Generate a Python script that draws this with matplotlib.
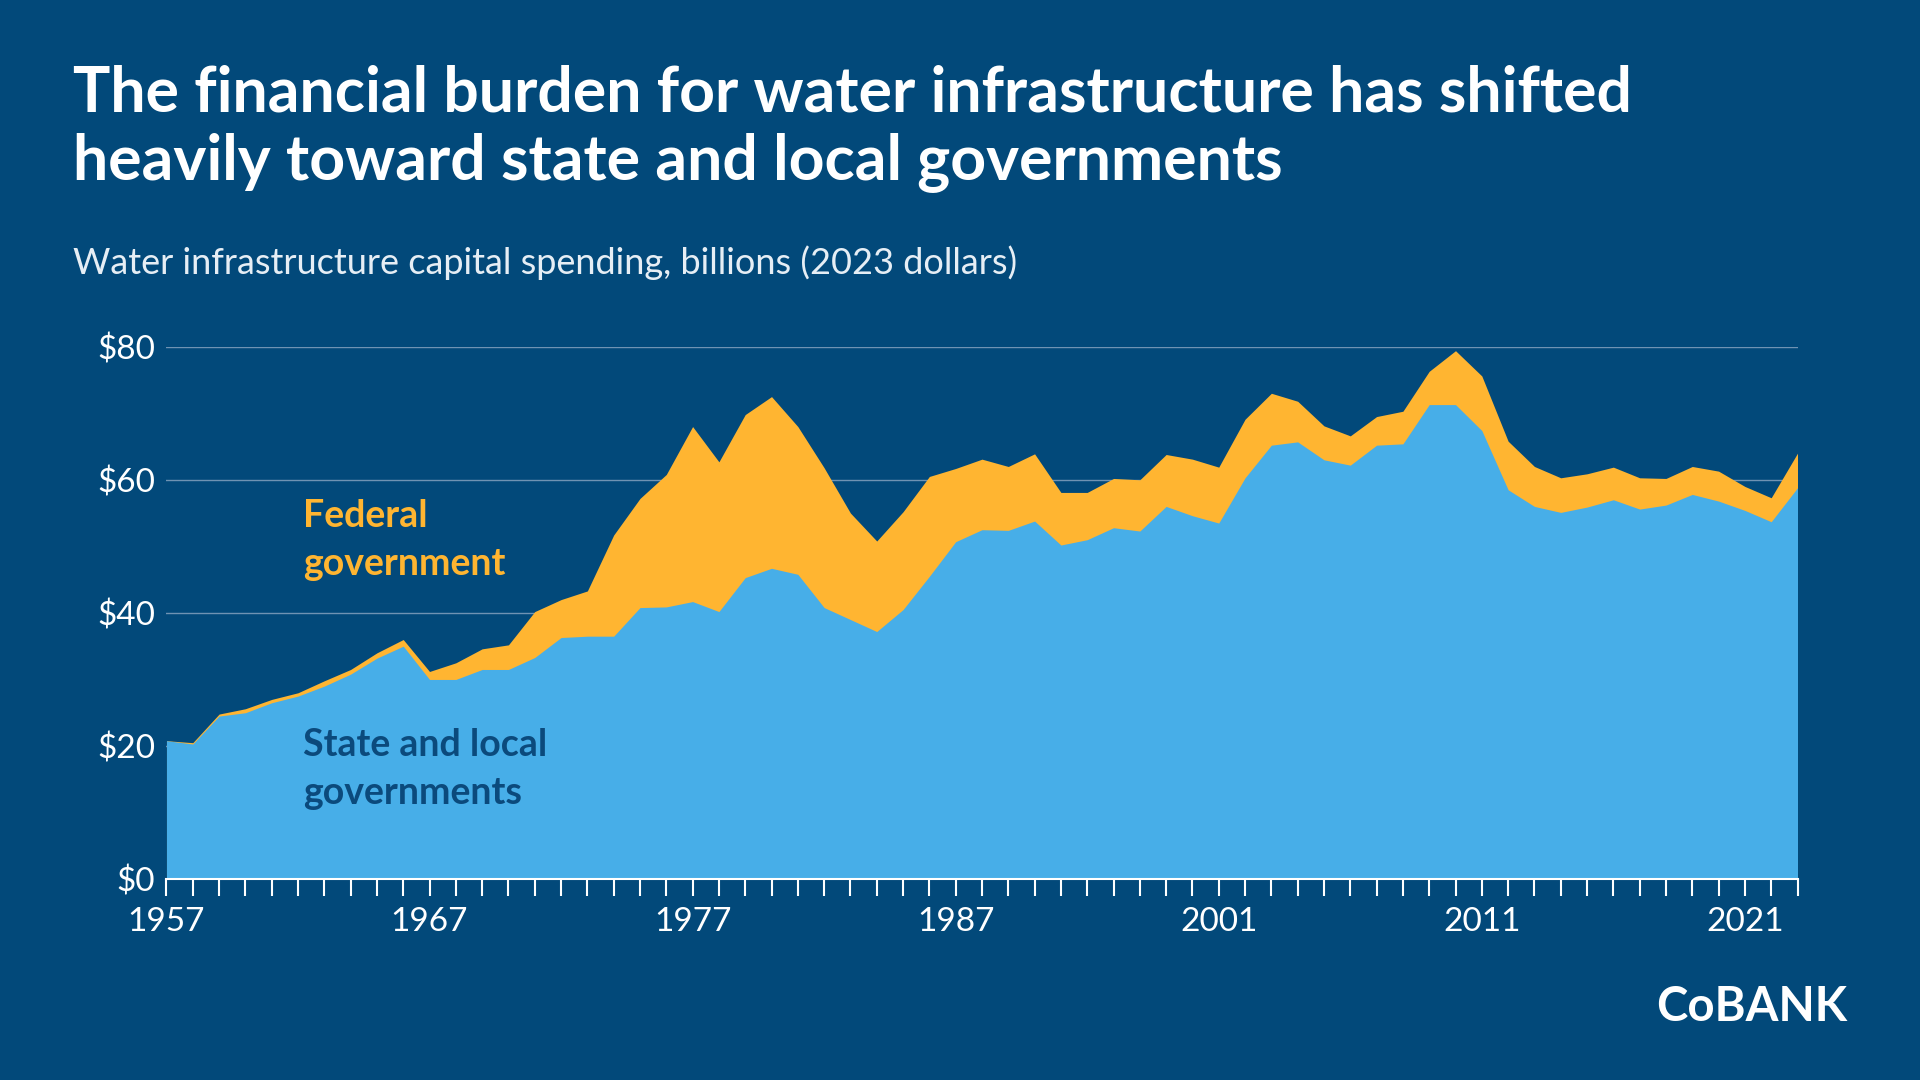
import numpy as np
import matplotlib

matplotlib.use("Agg")
import matplotlib.pyplot as plt

plt.rcParams["font.family"] = ["Lato", "DejaVu Sans"]

BG = "#02497A"
BLUE = "#47AEE8"
GOLD = "#FFB531"

years = list(range(1957, 1988)) + [1988, 1989, 1990, 1991, 1993, 1995, 1997, 1999, 2000] + list(range(2001, 2024))
total = [20.8, 20.5, 24.8, 25.6, 27.0, 28.0, 29.8, 31.5, 34.0, 36.0,
         31.2, 32.5, 34.6, 35.2, 40.2, 42.0, 43.3, 51.7, 57.2, 60.8,
         68.0, 62.7, 69.8, 72.5, 68.0, 61.8, 55.0, 50.8, 55.2, 60.5,
         61.7, 63.1, 62.0, 63.9, 58.1, 58.1, 60.2, 60.0, 63.8, 63.1,
         61.9, 69.1, 73.0, 71.8, 68.1, 66.6, 69.5, 70.3, 76.3, 79.4,
         75.6, 65.8, 62.0, 60.3, 60.9, 61.9, 60.3, 60.2, 62.0, 61.3,
         59.0, 57.3, 64.0]
state_local = [20.8, 20.3, 24.5, 25.0, 26.5, 27.5, 29.0, 30.8, 33.2, 35.0,
               30.0, 30.0, 31.5, 31.5, 33.3, 36.3, 36.5, 36.5, 40.8, 40.9,
               41.7, 40.2, 45.3, 46.7, 45.8, 40.8, 39.0, 37.2, 40.5, 45.5,
               50.7, 52.5, 52.4, 53.8, 50.2, 51.0, 52.8, 52.3, 56.0, 54.6,
               53.5, 60.3, 65.2, 65.7, 63.0, 62.2, 65.2, 65.4, 71.3, 71.3,
               67.4, 58.5, 56.0, 55.1, 55.9, 57.0, 55.6, 56.2, 57.8, 56.8,
               55.4, 53.7, 58.8]
tick_years = [1957, 1967, 1977, 1987, 2001, 2011, 2021]

x = np.arange(len(years))

fig = plt.figure(figsize=(19.2, 10.8), dpi=100, facecolor=BG)
ax = fig.add_axes([0.0867, 0.186, 0.8495, 0.493], facecolor=BG)

ax.fill_between(x, 0, total, color=GOLD, lw=0)
ax.fill_between(x, 0, state_local, color=BLUE, lw=0)

ax.set_xlim(0, len(x) - 1)
ax.set_ylim(0, 80)
ax.set_yticks([0, 20, 40, 60, 80])
ax.set_yticklabels([f"${v}" for v in [0, 20, 40, 60, 80]])
for v in [20, 40, 60, 80]:
    ax.axhline(v, color="#6F93B3", lw=1, zorder=0)

ax.set_xticks(x, minor=True)
ax.set_xticks([years.index(y) for y in tick_years])
ax.set_xticklabels([str(y) for y in tick_years])
ax.tick_params(axis="x", which="both", colors="white", length=12, width=1.5, direction="out")
ax.tick_params(axis="x", which="major", labelsize=24, pad=8)
ax.tick_params(axis="y", length=0, labelsize=24, labelcolor="white", pad=8)
for s in ["top", "right", "left"]:
    ax.spines[s].set_visible(False)
ax.spines["bottom"].set_color("white")
ax.spines["bottom"].set_linewidth(1.5)

ax.text(5.2, 51, "Federal\ngovernment", color=GOLD, fontsize=27, fontweight="bold",
        va="center", linespacing=1.5)
ax.text(5.2, 16.5, "State and local\ngovernments", color="#0B4A7C", fontsize=27,
        fontweight="bold", va="center", linespacing=1.5)

fig.text(0.038, 0.94, "The financial burden for water infrastructure has shifted\nheavily toward state and local governments",
         color="white", fontsize=45, fontweight="bold", va="top", linespacing=1.2)
fig.text(0.038, 0.757, "Water infrastructure capital spending, billions (2023 dollars)",
         color="#E6EEF5", fontsize=26, va="center")
fig.text(0.962, 0.068, "CoBANK", color="white", fontsize=34, fontweight="bold", ha="right", va="center")

fig.savefig("out.png", dpi=100, facecolor=BG)
